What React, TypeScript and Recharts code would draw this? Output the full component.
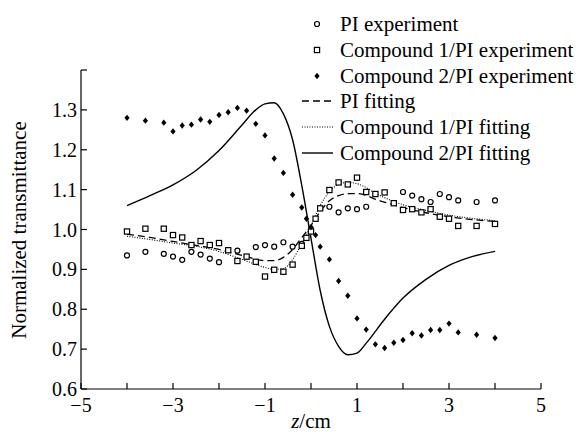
import React from 'react';
import { ComposedChart, Line, Scatter, XAxis, YAxis } from 'recharts';

// 実験データ (z / cm, 規格化透過率)
const piExpZ = [-4, -3.6, -3.2, -3, -2.8, -2.6, -2.4, -2.2, -2, -1.6, -1.2, -1, -0.8, -0.6, -0.4, -0.2, 0, 0.4, 0.6, 0.8, 1, 1.2, 2, 2.2, 2.4, 2.6, 2.8, 3, 3.2, 3.6, 4];
const piExpT = [0.935, 0.944, 0.939, 0.932, 0.924, 0.944, 0.937, 0.927, 0.918, 0.947, 0.956, 0.961, 0.957, 0.968, 0.957, 0.964, 1.0, 1.057, 1.043, 1.053, 1.051, 1.057, 1.094, 1.085, 1.076, 1.069, 1.089, 1.081, 1.073, 1.069, 1.073];

const c1ExpZ = [-4, -3.6, -3.2, -3, -2.8, -2.6, -2.4, -2.2, -2, -1.8, -1.6, -1.4, -1.2, -1, -0.8, -0.6, -0.4, -0.2, -0.1, 0, 0.1, 0.2, 0.4, 0.6, 0.8, 1, 1.2, 1.4, 1.6, 1.8, 2, 2.2, 2.4, 2.6, 2.8, 3, 3.2, 3.6, 4];
const c1ExpT = [0.995, 1.002, 1.002, 0.986, 0.98, 0.961, 0.971, 0.961, 0.966, 0.948, 0.921, 0.932, 0.919, 0.882, 0.899, 0.894, 0.912, 0.959, 0.979, 0.995, 1.027, 1.053, 1.099, 1.118, 1.113, 1.13, 1.094, 1.089, 1.093, 1.066, 1.049, 1.051, 1.043, 1.051, 1.032, 1.027, 1.009, 1.009, 1.014];

const c2ExpZ = [-4, -3.6, -3.2, -3, -2.8, -2.6, -2.4, -2.2, -2, -1.8, -1.6, -1.4, -1.2, -1, -0.8, -0.6, -0.4, -0.2, -0.1, 0, 0.1, 0.2, 0.4, 0.6, 0.8, 1, 1.2, 1.4, 1.6, 1.8, 2, 2.2, 2.4, 2.6, 2.8, 3, 3.2, 3.6, 4];
const c2ExpT = [1.28, 1.273, 1.268, 1.246, 1.261, 1.263, 1.276, 1.27, 1.287, 1.294, 1.305, 1.298, 1.265, 1.236, 1.178, 1.142, 1.087, 1.055, 1.027, 1.006, 0.986, 0.957, 0.925, 0.871, 0.834, 0.777, 0.749, 0.712, 0.703, 0.716, 0.723, 0.74, 0.734, 0.748, 0.748, 0.764, 0.742, 0.736, 0.728];

// フィッティング曲線
const piFitZ = [-4, -3.5, -3, -2.5, -2, -1.5, -1, -0.8, -0.6, -0.4, -0.2, 0, 0.2, 0.4, 0.6, 0.8, 1, 1.5, 2, 2.5, 3, 3.5, 4];
const piFitT = [0.988, 0.98, 0.97, 0.96, 0.95, 0.935, 0.922, 0.922, 0.93, 0.95, 0.98, 1.01, 1.045, 1.072, 1.085, 1.09, 1.09, 1.072, 1.055, 1.042, 1.032, 1.025, 1.02];

const c1FitZ = [-4, -3.5, -3, -2.5, -2, -1.5, -1, -0.8, -0.6, -0.4, -0.2, 0, 0.2, 0.4, 0.6, 0.8, 1, 1.5, 2, 2.5, 3, 3.5, 4];
const c1FitT = [0.983, 0.975, 0.966, 0.958, 0.945, 0.925, 0.905, 0.9, 0.902, 0.925, 0.965, 1.01, 1.06, 1.095, 1.113, 1.118, 1.115, 1.085, 1.062, 1.048, 1.036, 1.028, 1.022];

const c2FitZ = [-4, -3.5, -3, -2.5, -2, -1.5, -1.2, -1, -0.8, -0.6, -0.4, -0.2, 0, 0.2, 0.4, 0.6, 0.8, 1, 1.2, 1.6, 2, 2.5, 3, 3.5, 4];
const c2FitT = [1.06, 1.085, 1.112, 1.148, 1.198, 1.262, 1.3, 1.315, 1.318, 1.29, 1.225, 1.11, 0.978, 0.847, 0.757, 0.707, 0.686, 0.69, 0.715, 0.775, 0.828, 0.875, 0.91, 0.932, 0.945];

const xTicks = [-5, -4, -3, -2, -1, 0, 1, 2, 3, 4, 5];
const yTicks = [0.6, 0.7, 0.8, 0.9, 1.0, 1.1, 1.2, 1.3, 1.4];

const legendNames = [
  'PI experiment',
  'Compound 1/PI experiment',
  'Compound 2/PI experiment',
  'PI fitting',
  'Compound 1/PI fitting',
  'Compound 2/PI fitting',
];

const FONT = '"Liberation Serif", "Times New Roman", serif';

const toPoints = (zs: number[], ts: number[]) => zs.map((z, i) => ({ z, t: ts[i] }));

// マーカー
const CircleMark = (p: any) => (
  <circle cx={p.cx} cy={p.cy} r={2.5} fill="#fff" stroke="#000" strokeWidth={1.2} />
);
const SquareMark = (p: any) => (
  <rect x={p.cx - 2.6} y={p.cy - 2.6} width={5.2} height={5.2} fill="#fff" stroke="#000" strokeWidth={1.2} />
);
const DiamondMark = (p: any) => (
  <path
    d={`M${p.cx},${p.cy - 3.2}L${p.cx + 2.6},${p.cy}L${p.cx},${p.cy + 3.2}L${p.cx - 2.6},${p.cy}Z`}
    fill="#000"
  />
);

const LegendMarker = ({ index }: { index: number }) => {
  const cy = 13;
  switch (index) {
    case 0:
      return <CircleMark cx={21} cy={cy} />;
    case 1:
      return <SquareMark cx={21} cy={cy} />;
    case 2:
      return <DiamondMark cx={21} cy={cy} />;
    case 3:
      return <line x1={6} x2={37} y1={cy} y2={cy} stroke="#000" strokeWidth={1.3} strokeDasharray="7 4" />;
    case 4:
      return <line x1={6} x2={37} y1={cy} y2={cy} stroke="#000" strokeWidth={1.1} strokeDasharray="1 1.5" />;
    default:
      return <line x1={6} x2={37} y1={cy} y2={cy} stroke="#000" strokeWidth={1.4} />;
  }
};

// 凡例（チャートのレイアウトに影響しないよう外に置く）
const ChartLegend = () => (
  <div
    style={{
      position: 'absolute',
      left: 296,
      top: 11,
      fontFamily: FONT,
      fontSize: 21,
      color: '#000',
      pointerEvents: 'none',
    }}
  >
    {legendNames.map((name, i) => (
      <div key={name} style={{ display: 'flex', alignItems: 'center', height: 25.8 }}>
        <svg width={44} height={26} style={{ flex: 'none', display: 'block' }}>
          <LegendMarker index={i} />
        </svg>
        <span style={{ whiteSpace: 'nowrap', lineHeight: '26px' }}>{name}</span>
      </div>
    ))}
  </div>
);

const fmtX = (v: number) => {
  if (Math.abs(v) % 2 !== 1) return '';
  return v < 0 ? `\u2212${-v}` : `${v}`;
};
const fmtY = (v: number) => (v > 1.35 ? '' : v.toFixed(1));

export default function App() {
  const tickStyle = { fill: '#000', fontSize: 20, fontFamily: FONT };
  const axisLine = { stroke: '#000', strokeWidth: 1.2 };

  return (
    <div style={{ position: 'absolute', left: 0, top: 0, width: 580, height: 432, background: '#fff' }}>
      <ComposedChart width={580} height={432} margin={{ top: 70, right: 39, bottom: 0, left: 0 }}>
        <XAxis
          dataKey="z"
          type="number"
          domain={[-5, 5]}
          ticks={xTicks}
          interval={0}
          tickFormatter={fmtX}
          tick={tickStyle}
          tickSize={-6}
          tickMargin={15}
          axisLine={axisLine}
          tickLine={axisLine}
          height={43}
          allowDataOverflow
          label={{
            content: () => (
              <text x={311} y={428} textAnchor="middle" fontFamily={FONT} fontSize={21} fill="#000">
                <tspan fontStyle="italic">z</tspan>/cm
              </text>
            ),
          }}
        />
        <YAxis
          dataKey="t"
          type="number"
          domain={[0.6, 1.4]}
          ticks={yTicks}
          interval={0}
          tickFormatter={fmtY}
          tick={tickStyle}
          tickSize={-6}
          tickMargin={10}
          axisLine={axisLine}
          tickLine={axisLine}
          width={81}
          allowDataOverflow
          label={{
            content: () => (
              <text
                x={26}
                y={230}
                textAnchor="middle"
                fontFamily={FONT}
                fontSize={21}
                fill="#000"
                transform="rotate(-90 26 230)"
              >
                Normalized transmittance
              </text>
            ),
          }}
        />
        <Line data={toPoints(piFitZ, piFitT)} dataKey="t" name={legendNames[3]} type="monotone" stroke="#000" strokeWidth={1.3} strokeDasharray="7 4" dot={false} isAnimationActive={false} />
        <Line data={toPoints(c1FitZ, c1FitT)} dataKey="t" name={legendNames[4]} type="monotone" stroke="#000" strokeWidth={1.1} strokeDasharray="1 1.5" dot={false} isAnimationActive={false} />
        <Line data={toPoints(c2FitZ, c2FitT)} dataKey="t" name={legendNames[5]} type="monotone" stroke="#000" strokeWidth={1.4} dot={false} isAnimationActive={false} />
        <Scatter data={toPoints(piExpZ, piExpT)} dataKey="t" name={legendNames[0]} shape={CircleMark} isAnimationActive={false} />
        <Scatter data={toPoints(c1ExpZ, c1ExpT)} dataKey="t" name={legendNames[1]} shape={SquareMark} isAnimationActive={false} />
        <Scatter data={toPoints(c2ExpZ, c2ExpT)} dataKey="t" name={legendNames[2]} shape={DiamondMark} isAnimationActive={false} />
      </ComposedChart>
      <ChartLegend />
    </div>
  );
}
